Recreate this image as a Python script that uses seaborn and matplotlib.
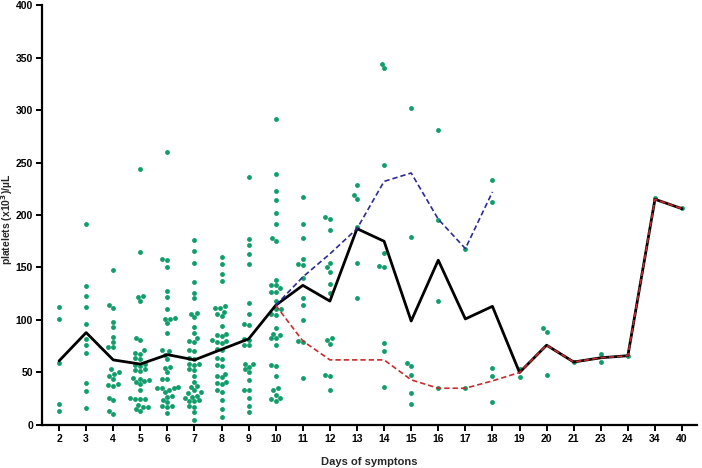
import matplotlib
matplotlib.use("Agg")
import matplotlib.pyplot as plt
import seaborn as sns
import pandas as pd

# ---------------- data ----------------
day_labels = ["2", "3", "4", "5", "6", "7", "8", "9", "10", "11", "12", "13",
              "14", "15", "16", "17", "18", "19", "20", "21", "23", "24", "34", "40"]

d2 = [112, 101, 59, 20, 13]
d3 = [191, 132, 123, 112, 96, 82, 76, 69, 40, 32, 16]
d4 = [148, 114, 111, 98, 93, 84, 79, 74, 74, 53, 50, 49, 47, 44, 39, 38, 37, 26, 24, 13, 10]
d5 = [244, 165, 123, 122, 118, 83, 81, 71, 69, 68, 64, 63, 58, 57, 56, 53, 52, 51, 45, 44,
      43, 42, 41, 39, 33, 26, 25, 25, 25, 19, 17, 17, 15, 13]
d6 = [260, 158, 157, 150, 128, 122, 110, 102, 101, 101, 97, 88, 71, 70, 67, 63, 55, 54, 50,
      44, 44, 36, 35, 35, 35, 33, 31, 27, 28, 24, 22, 18, 17, 18, 11]
d7 = [176, 166, 154, 136, 126, 121, 107, 106, 103, 93, 88, 83, 80, 79, 71, 70, 64, 63, 58, 57,
      58, 53, 52, 47, 41, 37, 36, 33, 31, 30, 28, 27, 26, 23, 23, 24, 18, 17, 12, 5]
d8 = [160, 153, 144, 137, 113, 108, 111, 111, 104, 106, 94, 87, 86, 85, 79, 78, 80, 81, 71, 72,
      63, 64, 57, 56, 47, 46, 49, 41, 39, 40, 33, 31, 24, 15, 8]
d9 = [236, 177, 171, 163, 153, 116, 106, 96, 95, 82, 81, 76, 76, 58, 58, 55, 53, 50, 43, 33,
      33, 26, 18, 12]
d10 = [291, 239, 223, 214, 202, 191, 178, 175, 138, 133, 133, 127, 127, 130, 118, 110, 110, 106,
       105, 92, 83, 83, 87, 86, 76, 57, 56, 47, 33, 29, 35, 23, 25, 26]
d11 = [217, 191, 178, 158, 152, 153, 140, 121, 114, 100, 79, 80, 45]
d12 = [196, 198, 186, 154, 150, 146, 134, 126, 81, 83, 77, 47, 48, 33]
d13 = [229, 219, 215, 189, 154, 121]
d14 = [344, 340, 248, 164, 151, 150, 78, 70, 36]
d15 = [302, 179, 59, 56, 48, 30, 20]
d16 = [281, 195, 118, 35]
d17 = [168, 35]
d18 = [233, 212, 54, 47, 22]
d19 = [53, 46]
d20 = [92, 89, 48]
d21 = [60]
d23 = [68, 60]
d24 = [66]
d34 = [216]
d40 = [207]

day_values = [d2, d3, d4, d5, d6, d7, d8, d9, d10, d11, d12, d13, d14, d15, d16, d17,
              d18, d19, d20, d21, d23, d24, d34, d40]

median_vals = [61, 88, 62, 58, 67, 62, 72, 82, 114, 133, 118, 187, 175, 99, 157, 101,
               113, 50, 76, 60, 64, 66, 215, 206]

blue_days = ["10", "11", "12", "13", "14", "15", "16", "17", "18"]
blue_vals = [114, 141, 163, 187, 232, 240, 196, 168, 222]

red_days = ["10", "11", "12", "13", "14", "15", "16", "17", "18", "19", "20", "21", "23",
            "24", "34", "40"]
red_vals = [114, 80, 62, 62, 62, 43, 35, 35, 42, 50, 76, 60, 64, 66, 215, 206]

# ---------------- build tables ----------------
rows = []
for d, vals in zip(day_labels, day_values):
    for v in vals:
        rows.append({"day": d, "platelets": v})
df_pts = pd.DataFrame(rows)

pos = {d: i for i, d in enumerate(day_labels)}
df_med = pd.DataFrame({"x": [pos[d] for d in day_labels], "y": median_vals})
df_blue = pd.DataFrame({"x": [pos[d] for d in blue_days], "y": blue_vals})
df_red = pd.DataFrame({"x": [pos[d] for d in red_days], "y": red_vals})

# ---------------- style ----------------
sns.set_style("ticks")
plt.rcParams["font.family"] = ["Liberation Sans", "DejaVu Sans"]
plt.rcParams["font.weight"] = "bold"
plt.rcParams["mathtext.default"] = "bf"

fig = plt.figure(figsize=(7.02, 4.68), dpi=100)
ax = fig.add_axes([0.0598, 0.0919, 0.933, 0.8974])

green = "#119e6b"
sns.swarmplot(data=df_pts, x="day", y="platelets", order=day_labels, color=green,
              size=3.5, linewidth=0, ax=ax, zorder=2)

sns.lineplot(data=df_med, x="x", y="y", color="black", linewidth=2.0, ax=ax,
             zorder=3, sort=False)
sns.lineplot(data=df_blue, x="x", y="y", color="#2b2a9c", linewidth=1.2, ax=ax,
             zorder=4, sort=False)
ax.lines[-1].set_dashes((3.2, 1.8))
sns.lineplot(data=df_red, x="x", y="y", color="#c92a2a", linewidth=1.2, ax=ax,
             zorder=5, sort=False)
ax.lines[-1].set_dashes((3.2, 1.8))

ax.set_xlim(-0.63, 23.55)
ax.set_ylim(0, 400)
ax.set_yticks(range(0, 401, 50))
ax.set_xticks(range(len(day_labels)))
ax.set_xticklabels(day_labels)

for s in ["top", "right"]:
    ax.spines[s].set_visible(False)
for s in ["left", "bottom"]:
    ax.spines[s].set_linewidth(1.6)
    ax.spines[s].set_color("black")

ax.tick_params(axis="both", direction="out", length=4.5, width=1.4, labelsize=7.5,
               pad=2, colors="black")
for lab in ax.get_xticklabels() + ax.get_yticklabels():
    lab.set_fontweight("bold")

ax.set_xlabel("Days of symptons", fontsize=8, fontweight="bold", labelpad=9)
ax.set_ylabel(r"platelets (x10$^{3}$)/µL", fontsize=7.5, fontweight="bold")
ax.yaxis.set_label_coords(-0.0405, 0.49)

fig.savefig("out.png", dpi=100)
